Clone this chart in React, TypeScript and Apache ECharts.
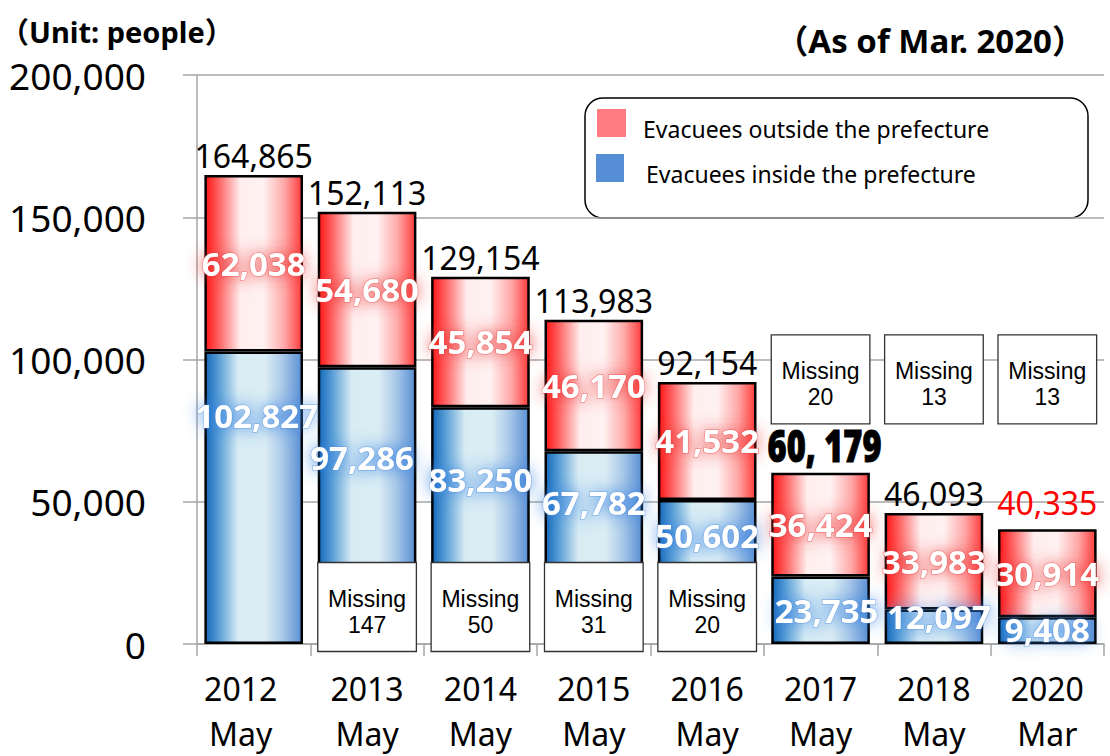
import React, { useEffect, useRef } from 'react';
import * as echarts from 'echarts';

// ---- data ----
const categories = ['2012\nMay', '2013\nMay', '2014\nMay', '2015\nMay', '2016\nMay', '2017\nMay', '2018\nMay', '2020\nMar'];
const insideValues = [102827, 97286, 83250, 67782, 50602, 23735, 12097, 9408];
const outsideValues = [62038, 54680, 45854, 46170, 41532, 36424, 33983, 30914];
const missingValues = [0, 147, 50, 31, 20, 20, 13, 13];
const totalValues = [164865, 152113, 129154, 113983, 92154, 60179, 46093, 40335];
const yTickValues = [0, 50000, 100000, 150000, 200000];

const seriesNames = ['Evacuees outside the prefecture', 'Evacuees inside the prefecture'];
const legendColors = ['#FF7C80', '#558ED5'];

// ---- layout / style ----
const FONT = "'Noto Sans', 'Noto Sans CJK JP', sans-serif";
const BOX_FONT = "'Liberation Sans', 'Noto Sans', sans-serif";
const insideLabelOffset = [[3, -82], [-5, -48], [0, -46], [0, -45], [0, -37], [6, 0], [5, -10], [0, -1]];
const lowBoxCenter = 13000; // boxes sitting on the bottom of the bars (2013-2016)
const highBoxCenter = 93000; // boxes floating above (2017-2020)
const emphasisIndex = 5; // total drawn in heavy condensed type
const redTotalIndex = 7; // total drawn in red

const fmt = (v: number) => v.toLocaleString('en-US');

export default function App() {
  const ref = useRef<HTMLDivElement>(null);

  useEffect(() => {
    if (!ref.current) return;
    const chart = echarts.init(ref.current, undefined, { renderer: 'svg' });

    const blueGrad = new echarts.graphic.LinearGradient(0, 0, 1, 0, [
      { offset: 0, color: '#1468bb' },
      { offset: 0.14, color: '#5a9fd6' },
      { offset: 0.34, color: '#d8ecf4' },
      { offset: 0.62, color: '#dbedf4' },
      { offset: 0.8, color: '#a9c8e8' },
      { offset: 1, color: '#5a8fd4' },
    ]);
    const redGrad = new echarts.graphic.LinearGradient(0, 0, 1, 0, [
      { offset: 0, color: '#ff1515' },
      { offset: 0.15, color: '#ff6a6a' },
      { offset: 0.36, color: '#ffeeee' },
      { offset: 0.6, color: '#fff2f2' },
      { offset: 0.82, color: '#ffa8a8' },
      { offset: 1, color: '#ff3c3c' },
    ]);

    const boxData = missingValues
      .map((m, i) => (m > 0 ? [i, i < 5 ? lowBoxCenter : highBoxCenter, m] : null))
      .filter((d) => d !== null);
    const totalData = totalValues.map((t, i) => [i, t]);

    const valueLabel = (glow: string, edge: string) => ({
      show: true,
      position: 'inside',
      formatter: (p: any) => fmt(p.value),
      fontSize: 33,
      fontWeight: 'bold',
      color: '#fff',
      fontFamily: FONT,
      textShadowColor: glow,
      textShadowBlur: 16,
      textBorderColor: edge,
      textBorderWidth: 1.5,
    });

    const option: any = {
      animation: false,
      backgroundColor: '#ffffff',
      textStyle: { fontFamily: FONT },
      grid: { left: 197, right: 6, top: 75, bottom: 109, containLabel: false },
      xAxis: {
        type: 'category',
        data: categories,
        axisLine: { lineStyle: { color: '#a6a6a6', width: 1.5 } },
        axisTick: { show: true, length: 12, interval: 0, lineStyle: { color: '#a6a6a6', width: 1.5 } },
        axisLabel: {
          fontSize: 32,
          lineHeight: 45,
          margin: 22,
          color: '#000',
          fontFamily: FONT,
          interval: 0,
          formatter: (v: string, i: number) =>
            i === 0 ? v.split('\n').map((s) => `{first|${s}}`).join('\n') : v,
          rich: {
            first: { fontSize: 32, lineHeight: 45, color: '#000', fontFamily: FONT, padding: [0, 26, 0, 0] },
          },
        },
      },
      yAxis: {
        type: 'value',
        min: yTickValues[0],
        max: yTickValues[yTickValues.length - 1],
        interval: yTickValues[1] - yTickValues[0],
        axisLine: { show: true, lineStyle: { color: '#a6a6a6', width: 1.5 } },
        axisTick: { show: true, length: 14, lineStyle: { color: '#a6a6a6', width: 1.5 } },
        splitLine: { show: true, lineStyle: { color: '#a6a6a6', width: 1.5 } },
        axisLabel: { fontSize: 37, color: '#000', margin: 51, fontFamily: FONT, formatter: (v: number) => fmt(v) },
      },
      graphic: [
        {
          type: 'text',
          x: 0,
          y: 31.5,
          style: { text: '（Unit: people）', fontSize: 29, fontWeight: 'bold', fill: '#000', fontFamily: FONT, align: 'left', verticalAlign: 'middle' },
        },
        {
          type: 'text',
          x: 1085,
          y: 40,
          style: { text: '（As of Mar. 2020）', fontSize: 33, fontWeight: 'bold', fill: '#000', fontFamily: FONT, align: 'right', verticalAlign: 'middle' },
        },
        {
          type: 'group',
          children: [
            {
              type: 'rect',
              shape: { x: 585, y: 98, width: 503, height: 120, r: 18 },
              style: { fill: '#fff', stroke: '#000', lineWidth: 1.5 },
            },
            { type: 'rect', shape: { x: 597, y: 109, width: 29, height: 28 }, style: { fill: legendColors[0] } },
            { type: 'rect', shape: { x: 596, y: 154, width: 28, height: 28 }, style: { fill: legendColors[1] } },
            {
              type: 'text',
              x: 643,
              y: 128.5,
              style: { text: seriesNames[0], fontSize: 23, fill: '#000', fontFamily: FONT, align: 'left', verticalAlign: 'middle' },
            },
            {
              type: 'text',
              x: 646,
              y: 173.5,
              style: { text: seriesNames[1], fontSize: 23, fill: '#000', fontFamily: FONT, align: 'left', verticalAlign: 'middle' },
            },
          ],
        },
      ],
      series: [
        {
          name: seriesNames[1],
          type: 'bar',
          stack: 'total',
          barWidth: '87%',
          data: insideValues.map((v, i) => ({
            value: v,
            label: { offset: insideLabelOffset[i] },
          })),
          itemStyle: { color: blueGrad, borderColor: '#000', borderWidth: 2.5 },
          label: valueLabel('rgba(55,130,225,0.95)', 'rgba(70,140,225,0.45)'),
          z: 2,
        },
        {
          name: seriesNames[0],
          type: 'bar',
          stack: 'total',
          barWidth: '87%',
          data: outsideValues,
          itemStyle: { color: redGrad, borderColor: '#000', borderWidth: 2.5 },
          label: valueLabel('rgba(235,55,55,0.9)', 'rgba(230,60,60,0.45)'),
          z: 2,
        },
        {
          name: 'Total',
          type: 'custom',
          data: totalData,
          encode: { x: 0, y: 1 },
          z: 4,
          clip: false,
          renderItem: (params: any, api: any) => {
            const idx = api.value(0);
            const total = api.value(1);
            const c = api.coord([idx, total]);
            if (idx === emphasisIndex) {
              return {
                type: 'text',
                x: c[0] + 4,
                y: c[1] - 6,
                scaleX: 0.74,
                style: {
                  text: fmt(total).replace(',', ', '),
                  x: 0,
                  y: 0,
                  align: 'center',
                  verticalAlign: 'bottom',
                  fontSize: 44,
                  fontWeight: 900,
                  fontFamily: FONT,
                  fill: '#000',
                  stroke: '#000',
                  lineWidth: 1,
                },
              };
            }
            return {
              type: 'text',
              x: c[0],
              y: c[1] - (idx === redTotalIndex ? 11 : 3),
              style: {
                text: fmt(total),
                x: 0,
                y: 0,
                align: 'center',
                verticalAlign: 'bottom',
                fontSize: 32,
                fontFamily: FONT,
                fill: idx === redTotalIndex ? '#ff0000' : '#000',
              },
            };
          },
        },
        {
          name: 'Missing',
          type: 'custom',
          data: boxData,
          encode: { x: 0, y: 1 },
          z: 5,
          clip: false,
          renderItem: (params: any, api: any) => {
            const idx = api.value(0);
            const c = api.coord([idx, api.value(1)]);
            const bandW = api.size([1, 0])[0];
            const w = bandW * 0.87;
            const h = 89;
            const textStyle = {
              align: 'center',
              verticalAlign: 'middle',
              fontSize: 23,
              fontFamily: BOX_FONT,
              fill: '#000',
            };
            return {
              type: 'group',
              children: [
                {
                  type: 'rect',
                  shape: { x: c[0] - w / 2, y: c[1] - h / 2, width: w, height: h },
                  style: { fill: '#fff', stroke: '#333', lineWidth: 1.3 },
                },
                {
                  type: 'text',
                  style: { ...textStyle, text: 'Missing', x: c[0], y: c[1] - 8 },
                },
                {
                  type: 'text',
                  style: { ...textStyle, text: String(api.value(2)), x: c[0], y: c[1] + 18 },
                },
              ],
            };
          },
        },
      ],
    };

    chart.setOption(option);
    return () => chart.dispose();
  }, []);

  return (
    <div
      ref={ref}
      style={{ position: 'absolute', left: 0, top: 0, width: 1110, height: 756 }}
    />
  );
}
